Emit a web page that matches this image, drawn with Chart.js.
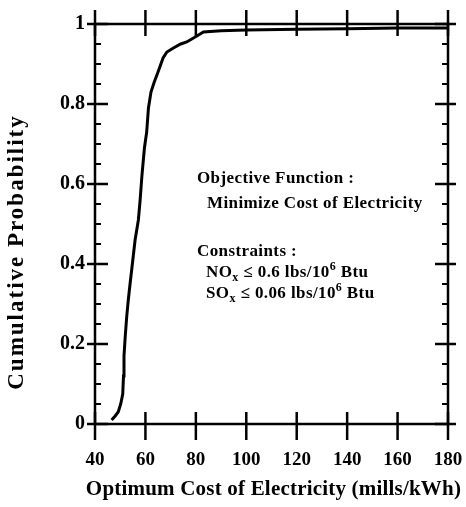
<!DOCTYPE html>
<html>
<head>
<meta charset="utf-8">
<script src="https://cdn.jsdelivr.net/npm/chart.js@4.4.0/dist/chart.umd.min.js"></script>
<style>
  html, body { margin: 0; padding: 0; background: #fff; }
  #wrap { width: 466px; height: 507px; }
</style>
</head>
<body>
<div id="wrap"><canvas id="grafico"></canvas></div>
<script>
// Valores
const costoOptimo = [46.6, 48, 49.2, 50.2, 51, 51.3, 51.5, 52, 52.6, 53.2,
  53.9, 55, 55.9, 57.2, 57.9, 58.6, 59.6, 60.5, 61.2, 62.2,
  63.5, 65, 67, 68.5, 71.1, 74, 76.4, 80.4, 83, 90,
  100, 120, 140, 160, 180];
const probAcumulada = [0.01, 0.02, 0.03, 0.05, 0.075, 0.12, 0.17, 0.22, 0.27, 0.31,
  0.35, 0.41, 0.46, 0.51, 0.56, 0.62, 0.69, 0.73, 0.79, 0.83,
  0.855, 0.88, 0.915, 0.93, 0.94, 0.95, 0.955, 0.97, 0.98, 0.983,
  0.985, 0.987, 0.988, 0.99, 0.99];
const ticksX = [40, 60, 80, 100, 120, 140, 160, 180];
const ticksY = [0, 0.2, 0.4, 0.6, 0.8, 1];

const FUENTE = "'Liberation Serif', 'Times New Roman', serif";
const puntos = costoOptimo.map((c, i) => ({ x: c, y: probAcumulada[i] }));

// Marco, marcas cruzadas, titulos y texto del recuadro
const marcoPlugin = {
  id: 'marco',
  afterDraw(chart) {
    const { ctx, chartArea: a, scales: { x, y } } = chart;
    const linea = (x1, y1, x2, y2) => {
      ctx.beginPath(); ctx.moveTo(x1, y1); ctx.lineTo(x2, y2); ctx.stroke();
    };
    ctx.save();
    ctx.strokeStyle = '#000';
    ctx.lineWidth = 2.5;
    ctx.strokeRect(a.left, a.top, a.right - a.left, a.bottom - a.top);

    ticksX.forEach(v => {
      const px = x.getPixelForValue(v);
      linea(px, a.bottom - 12, px, a.bottom + 16);
      linea(px, a.top - 14, px, a.top + 12);
    });
    ticksY.forEach(v => {
      const py = y.getPixelForValue(v);
      linea(a.left - 8, py, a.left + 13, py);
      linea(a.right - 13, py, a.right + 8, py);
    });
    ctx.lineWidth = 2;
    for (let k = 1; k < 20; k++) {
      if (k % 4 === 0) continue;
      const py = y.getPixelForValue(k * 0.05);
      linea(a.left, py, a.left + 6, py);
      linea(a.right - 6, py, a.right, py);
    }

    // titulos de ejes
    ctx.fillStyle = '#000';
    ctx.textAlign = 'center';
    ctx.textBaseline = 'middle';
    ctx.font = 'bold 21px ' + FUENTE;
    ctx.letterSpacing = '0.2px';
    ctx.fillText('Optimum Cost of Electricity (mills/kWh)', (a.left + a.right) / 2 + 2, 490);
    ctx.save();
    ctx.translate(17, 252);
    ctx.rotate(-Math.PI / 2);
    ctx.font = 'bold 23px ' + FUENTE;
    ctx.letterSpacing = '2px';
    ctx.fillText('Cumulative Probability', 0, 0);
    ctx.restore();

    // texto del recuadro
    ctx.textAlign = 'left';
    ctx.textBaseline = 'alphabetic';
    ctx.letterSpacing = '0.4px';
    const escribir = (partes, x0, y0) => {
      let cx = x0;
      partes.forEach(([txt, tipo]) => {
        let tam = 17, dy = 0;
        if (tipo === 'sub') { tam = 12; dy = 4; }
        if (tipo === 'sup') { tam = 12; dy = -7; }
        ctx.font = 'bold ' + tam + 'px ' + FUENTE;
        ctx.fillText(txt, cx, y0 + dy);
        cx += ctx.measureText(txt).width;
      });
    };
    escribir([['Objective Function :']], 197, 183);
    escribir([['Minimize Cost of Electricity']], 207, 208);
    escribir([['Constraints :']], 197, 256);
    escribir([['NO'], ['x', 'sub'], [' \u2264 0.6 lbs/10'], ['6', 'sup'], [' Btu']], 206, 277);
    escribir([['SO'], ['x', 'sub'], [' \u2264 0.06 lbs/10'], ['6', 'sup'], [' Btu']], 206, 298);
    ctx.restore();
  }
};

new Chart(document.getElementById('grafico'), {
  type: 'line',
  data: {
    datasets: [{
      data: puntos,
      borderColor: '#000',
      borderWidth: 3,
      pointRadius: 0,
      tension: 0,
      fill: false
    }]
  },
  options: {
    responsive: true,
    maintainAspectRatio: false,
    animation: false,
    devicePixelRatio: 1,
    layout: { padding: { top: 24, right: 18, left: 0, bottom: 0 } },
    plugins: { legend: { display: false }, tooltip: { enabled: false } },
    scales: {
      x: {
        type: 'linear',
        min: 40, max: 180,
        afterFit: s => { s.height = 83; s.paddingLeft = 0; s.paddingRight = 0; },
        afterBuildTicks: s => { s.ticks = ticksX.map(v => ({ value: v })); },
        grid: { display: false, drawTicks: false },
        border: { display: false },
        ticks: { color: '#000', padding: 25, font: { family: FUENTE, size: 19, weight: 'bold' } }
      },
      y: {
        min: 0, max: 1,
        afterFit: s => { s.width = 95; s.paddingTop = 0; s.paddingBottom = 0; },
        afterBuildTicks: s => { s.ticks = ticksY.map(v => ({ value: v })); },
        grid: { display: false, drawTicks: false },
        border: { display: false },
        ticks: {
          color: '#000', padding: 10,
          font: { family: FUENTE, size: 20, weight: 'bold' },
          callback: v => (v === 0 || v === 1) ? String(v) : v.toFixed(1)
        }
      }
    }
  },
  plugins: [marcoPlugin]
});
</script>
</body>
</html>
